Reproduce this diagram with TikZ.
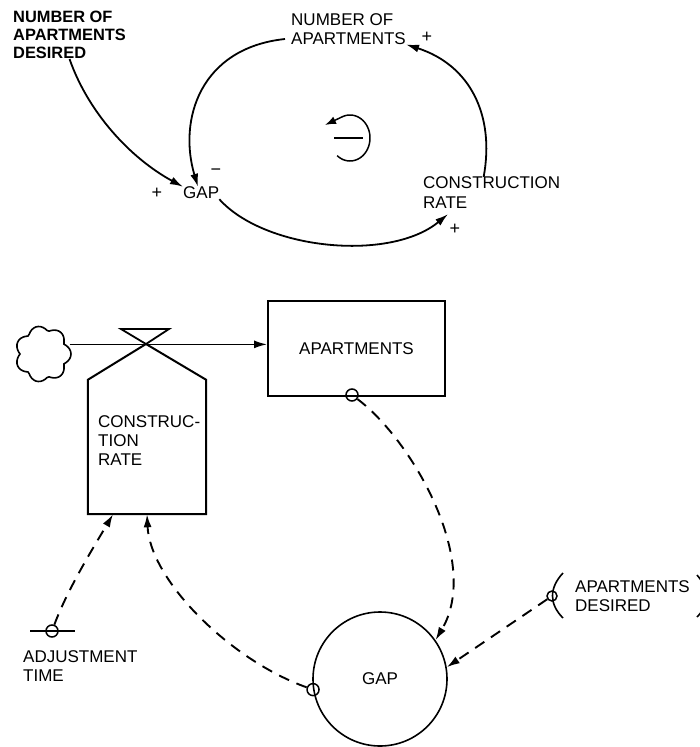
\documentclass[tikz,border=0pt]{standalone}
\usepackage{fontspec}
\setmainfont{Liberation Sans}
\usetikzlibrary{arrows.meta}

\begin{document}
\begin{tikzpicture}[x=1pt,y=-1pt,
  every node/.style={inner sep=0pt},
  lbl/.style={font=\fontsize{17}{18.5}\selectfont, align=left, anchor=west},
  lblb/.style={font=\fontsize{16.4}{18}\selectfont\bfseries, align=left, anchor=west},
  sign/.style={font=\fontsize{18}{18}\selectfont},
  link/.style={line width=1.8pt, -{Latex[length=13pt,width=8pt]}},
  info/.style={line width=1.9pt, dash pattern=on 11pt off 8pt, -{Latex[length=13pt,width=8pt]}},
  tap/.style={circle, draw, line width=1.5pt, minimum size=12pt},
  stock/.style={draw, line width=2pt, minimum width=177pt, minimum height=95pt,
                font=\fontsize{17}{18}\selectfont},
  edge/.style={line width=2pt, line join=miter},
]
\useasboundingbox (0,0) rectangle (700,747);

% ---------- causal loop diagram ----------
\node[lblb] (nad) at (13,35) {NUMBER OF\\APARTMENTS\\DESIRED};
\node[lbl] (gapt) at (183,193) {GAP};
\node[sign] (p1) at (157,193) {+};
\node[sign] (m1) at (216,172) {−};
\node[lbl] (na) at (291,29) {NUMBER OF\\APARTMENTS};
\node[sign] (p2) at (427,37) {+};
\node[lbl, font=\fontsize{17}{20}\selectfont] (cr) at (423,193) {CONSTRUCTION\\RATE};
\node[sign] (p3) at (455,229) {+};

\draw[link] (nad.south) .. controls (88,112) and (130,158) .. (gapt.north west);
\draw[link] ([shift={(-6,10)}]na.west) .. controls (200,48) and (178,120) .. ([xshift=15]gapt.north west);
\draw[link] (gapt.south east) .. controls (265,250) and (390,262) .. ([shift={(25,5)}]cr.south west);
\draw[link] ([xshift=-8]cr.north) .. controls (495,115) and (470,65) .. (na.south east);

% loop polarity symbol
\draw[line width=1.5pt, -{Latex[length=11pt,width=8pt]}]
  plot[domain=-130:112, samples=50, variable=\t] ({350+20*cos(\t)}, {138-23*sin(\t)})
  -- (325,125);
\draw[line width=1.6pt] (334,138) -- (363,138);

% ---------- flow diagram ----------
\node[stock] (apt) at (356.5,348.5) {APARTMENTS};

% source cloud
\node[circle, minimum size=56pt] (src) at (43,354) {};
\draw[line width=1.6pt]
  plot[smooth cycle, domain=0:355, samples=72, variable=\t]
  ({43+(23+5*abs(cos(3.5*\t)))*cos(\t)}, {354+(23+5*abs(cos(3.5*\t)))*sin(\t)});
\draw[line width=1.5pt, -{Latex[length=13pt,width=8pt]}] (src.20) -- (src.20 -| apt.west);

% rate valve
\coordinate (vc) at (146,344);
\draw[line width=1.8pt] (vc) -- (121,329) -- (169,329) -- cycle;
\node[minimum width=118pt, minimum height=134pt] (rate) at (147,447) {};
\draw[edge] (rate.north west) -- (vc) -- (rate.north east) -- (rate.south east)
  -- (rate.south west) -- cycle;
\node[lbl, font=\fontsize{17}{19}\selectfont] (ratel) at (98,441) {CONSTRUC-\\TION\\RATE};

% auxiliary
\node[circle, draw, line width=1.6pt, minimum size=134pt, font=\fontsize{17}{18}\selectfont] (gap) at (380,679) {GAP};

% information pick-offs
\node[tap] (aptout) at (352,395) {};
\node[tap] (gapout) at (gap.189) {};
\node[tap] (adj) at (52,631) {};
\draw[line width=1.6pt] ([xshift=-22]adj.center) -- ([xshift=23]adj.center);
\node[lbl] (adjl) at (23,666) {ADJUSTMENT\\TIME};

\node[tap, minimum size=10pt] (des) at (552,596) {};
\draw[line width=1.6pt] (563,573) .. controls (549,588) and (549,604) .. (563,618);
\draw[line width=1.6pt] (697,575) .. controls (710,590) and (710,604) .. (697,617);
\node[lbl] (desl) at (575,596) {APARTMENTS\\DESIRED};

% information links
\draw[info] (aptout) .. controls (412,440) and (482,562) .. (gap.35);
\draw[info] (des) -- (gap.10);
\draw[info] (gapout) .. controls (230,660) and (150,580) .. (rate.south);
\draw[info] (adj) .. controls (68,588) and (95,545) .. ([xshift=-34]rate.south);
\end{tikzpicture}
\end{document}
